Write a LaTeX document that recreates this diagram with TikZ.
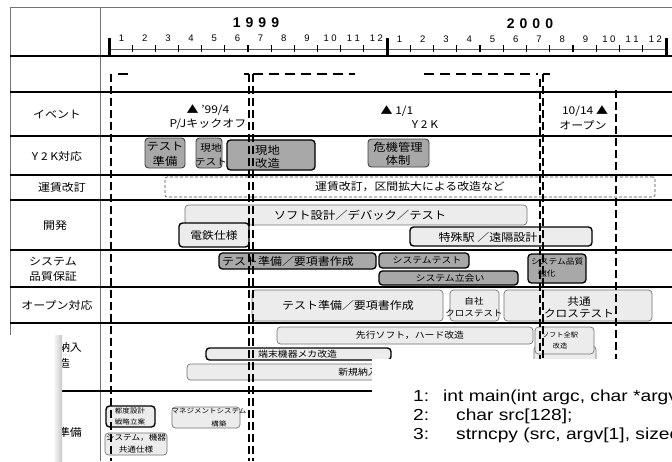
\documentclass[tikz,border=0pt]{standalone}
\usepackage{fontspec}
\setmainfont[FakeStretch=1.12]{Noto Sans CJK JP}
\newfontfamily\latinsf{Liberation Sans}
\newfontfamily\codef[FakeStretch=1.2]{Liberation Sans}
\definecolor{midgray}{RGB}{168,168,168}
\definecolor{litgray}{RGB}{236,236,236}
\newcommand{\fz}[2]{\fontsize{#1}{#2}\selectfont}
\newcommand{\tbox}[6]{\node[#1, minimum width={(#4)-(#2)}, minimum height={(#5)-(#3)}] (#6) at (#2,#3) {};}
\begin{document}
\begin{tikzpicture}[x=1pt,y=-1pt,
 gridv/.style={draw=black!55, line width=0.9pt},
 rowline/.style={draw=black, line width=1.5pt},
 vdash/.style={draw=black, line width=1.8pt, dash pattern=on 8pt off 4pt},
 hdash/.style={draw=black, line width=1.6pt, dash pattern=on 10pt off 6pt},
 tick/.style={draw=black, line width=1.1pt},
 bar/.style={draw=black, line width=3pt},
 box/.style={rectangle, rounded corners=3.5pt, inner sep=0pt, outer sep=0pt, anchor=north west},
 midbox/.style={box, fill=midgray, draw=black!75, line width=0.9pt},
 midboxk/.style={box, fill=midgray, draw=black, line width=1.3pt},
 litbox/.style={box, fill=litgray, draw=black!55, line width=0.7pt},
 litboxk/.style={box, fill=litgray, draw=black, line width=1.4pt},
 farebox/.style={box, fill=white, draw=black!70, line width=0.6pt, dash pattern=on 3pt off 2pt, rounded corners=2pt},
 txt/.style={inner sep=0pt, align=center},
 lbl/.style={txt, font=\fz{10.7}{15}},
 mon/.style={txt, font=\latinsf\fz{9.5}{11}},
 year/.style={txt, font=\latinsf\bfseries\fz{14}{16}},
 code/.style={inner sep=0pt, anchor=base west, font=\codef\fz{16}{18}},
]
\useasboundingbox (0,0) rectangle (672,461);
\clip (0,0) rectangle (672,461);
\fill[white] (0,0) rectangle (672,461);

% ---------- grid ----------
\draw[gridv] (10,7) -- (672,7);
\draw[gridv] (10,7) -- (10,461);
\draw[gridv] (100,7) -- (100,461);
\foreach \yy in {56,92,136,175,200,250,287,323,391}
  \draw[rowline] (10,\yy) -- (672,\yy);

% ---------- time axis ----------
\node[year] (y1999) at (256,23) {1\hspace{5pt}9\hspace{5pt}9\hspace{5pt}9};
\node[year] (y2000) at (530,24) {2\hspace{5pt}0\hspace{5pt}0\hspace{5pt}0};
\draw[draw=black!60, line width=0.8pt] (109,49) -- (666,49);
\foreach \k in {1,...,11} {
  \draw[tick] ({109+23.17*\k},45) -- ({109+23.17*\k},52);
  \draw[tick] ({387+23.25*\k},45) -- ({387+23.25*\k},52);
}
\draw[bar] (109,38) -- (109,55);
\draw[bar] (387,38) -- (387,55);
\draw[bar] (666,38) -- (666,55);
\foreach \m/\t in {1/1,2/2,3/3,4/4,5/5,6/6,7/7,8/8,9/9,10/1\hspace{2.5pt}0,11/1\hspace{2.5pt}1,12/1\hspace{2.5pt}2} {
  \node[mon] (ma\m) at ({109+23.17*(\m-0.5)+1},38) {\t};
  \node[mon] (mb\m) at ({387+23.25*(\m-0.5)+1},39) {\t};
}

% ---------- row labels ----------
\node[lbl] (l-ev) at (57,114) {イベント};
\node[lbl] (l-y2k) at (57,156) {Y 2 K対応};
\node[lbl] (l-fare) at (62,187) {運賃改訂};
\node[lbl] (l-dev) at (55,225) {開発};
\node[lbl] (l-sq) at (53,269.5) {システム\\品質保証};
\node[lbl] (l-op) at (57,305) {オープン対応};
\node[lbl, font=\fz{10.7}{16}] (l-nn) at (58,355) {機器納入\\改造};
\node[lbl] (l-jb) at (58,432) {開業準備};

% ---------- events ----------
\node[lbl] (ev1a) at (208,110) {▲ ’99/4};
\node[lbl] (ev1b) at (208,124) {P/Jキックオフ};
\node[lbl] (ev2a) at (397,111) {▲ 1/1};
\node[lbl] (ev2b) at (425,125) {Y 2 K};
\node[lbl] (ev3a) at (585,111) {10/14 ▲};
\node[lbl] (ev3b) at (583,125) {オープン};

% ---------- Y2K ----------
\tbox{midbox}{145}{138}{185}{168}{b-tp}
\node[txt, font=\fz{11}{15}] (t-tp) at (165,154.5) {テスト\\準備};
\tbox{midbox}{196}{138}{222}{168}{b-gt}
\node[txt, font=\fz{9.5}{14}] (t-gt) at (211,155) {現地\\テスト};
\tbox{midboxk}{227}{140}{315}{170}{b-gk}
\node[txt, align=left, anchor=west, font=\fz{11}{12.5}] (t-gk) at (255,157) {現地\\改造};
\tbox{midbox}{368}{139}{429}{167}{b-kk}
\node[txt, font=\fz{11}{12.5}] (t-kk) at (398,154) {危機管理\\体制};

% ---------- fare ----------
\tbox{farebox}{165}{177}{655}{197}{b-fare}
\node[txt, font=\fz{10.6}{12}] (t-fare) at (410,187) {運賃改訂，区間拡大による改造など};

% ---------- development ----------
\tbox{litbox}{185}{205}{527}{225}{b-soft}
\node[txt, font=\fz{11}{12}] (t-soft) at (360,215) {ソフト設計／デバック／テスト};
\tbox{litboxk}{179}{223}{249}{247}{b-dt}
\node[txt, font=\fz{10.5}{12}] (t-dt) at (214,236) {電鉄仕様};
\tbox{litboxk}{410}{227}{592}{246}{b-tk}
\node[txt, font=\fz{10.7}{12}] (t-tk) at (488,237) {特殊駅 ／遠隔設計};

% ---------- system QA ----------
\tbox{midboxk}{219}{253}{376}{269}{b-sq1}
\node[txt, font=\fz{10.7}{12}] (t-sq1) at (288,261) {テスト準備／要項書作成};
\tbox{midboxk}{379}{253}{469}{268}{b-sq2}
\node[txt, font=\fz{8.8}{10}] (t-sq2) at (427,260.5) {システムテスト};
\tbox{midboxk}{379}{271}{518}{285}{b-sq3}
\node[txt, font=\fz{8.8}{10}] (t-sq3) at (450,278) {システム立会い};
\tbox{midboxk}{528}{254}{586}{283}{b-sq4}
\node[txt, align=left, anchor=north west, font=\fz{7.8}{12}] (t-sq4) at (531,258) {システム品質\\\hspace{7pt}強化};

% ---------- open ----------
\tbox{litbox}{252}{290}{443}{321}{b-op1}
\node[txt, font=\fz{10.7}{12}] (t-op1) at (348,305.5) {テスト準備／要項書作成};
\tbox{litbox}{450}{290}{499}{321}{b-op2}
\node[txt, font=\fz{8.5}{12}] (t-op2) at (474,307) {自社\\クロステスト};
\tbox{litbox}{504}{290}{652}{321}{b-op3}
\node[txt, font=\fz{10.4}{12}] (t-op3) at (579,307) {共通\\クロステスト};

% ---------- delivery ----------
\tbox{litbox}{277}{327}{533}{344}{b-nn1}
\node[txt, font=\fz{8.8}{10}] (t-nn1) at (410,335.5) {先行ソフト，ハード改造};
\tbox{litbox}{534}{346}{596}{385}{b-nn2}
\tbox{litbox}{535}{327}{594}{354}{b-nn3}
\node[txt, font=\fz{6.5}{11}] (t-nn3) at (560,340.5) {ソフト全駅\\改造};
\tbox{litboxk}{206}{348}{391}{360}{b-nn4}
\node[txt, anchor=west, font=\fz{8.8}{10}] (t-nn4) at (258,354) {端末機器メカ改造};
\tbox{litbox}{187}{364}{530}{380}{b-nn5}
\node[txt, font=\fz{8.8}{10}] (t-nn5) at (358,372) {新規納入};

% ---------- preparation ----------
\tbox{litboxk}{106}{406}{155}{427}{b-jb1}
\node[txt, font=\fz{6.7}{11}] (t-jb1) at (130,416.5) {都度設計\\戦略立案};
\tbox{litbox}{172}{407}{240}{428}{b-jb2}
\node[txt, font=\fz{6.7}{13}] (t-jb2) at (209,417.5) {マネジメントシステム\\\hspace{20pt}構築};
\tbox{litbox}{105}{433}{167}{455}{b-jb3}
\node[txt, font=\fz{7.7}{12}] (t-jb3) at (136,444) {システム，機器\\共通仕様};

% ---------- phase markers ----------
\draw[vdash] (111,74) -- (111,461);
\draw[vdash] (249,74) -- (249,461);
\draw[vdash] (253,74) -- (253,461);
\draw[vdash] (540,79) -- (540,461);
\draw[vdash] (543,74) -- (543,461);
\draw[vdash] (616,90) -- (616,461);
\draw[hdash] (118,74) -- (128,74);
\draw[hdash] (244,74) -- (249,74);
\draw[hdash] (253,74) -- (355,74);
\draw[hdash] (424,74) -- (538,74);
\draw[hdash] (543,74) -- (550,74);

% ---------- overlays ----------
\fill[white] (0,335) rectangle (53,461);
\shade[left color=white, right color=black!22] (53,335) rectangle (62,461);
\fill[white] (372,359) rectangle (672,461);
\node[code] (c1n) at (413,401) {1:};
\node[code] (c1) at (443,401) {int main(int argc, char *argv};
\node[code] (c2n) at (413,420) {2:};
\node[code] (c2) at (456,420) {char src[128];};
\node[code] (c3n) at (413,439) {3:};
\node[code] (c3) at (456,439) {strncpy (src, argv[1], sizeo};
\end{tikzpicture}
\end{document}
